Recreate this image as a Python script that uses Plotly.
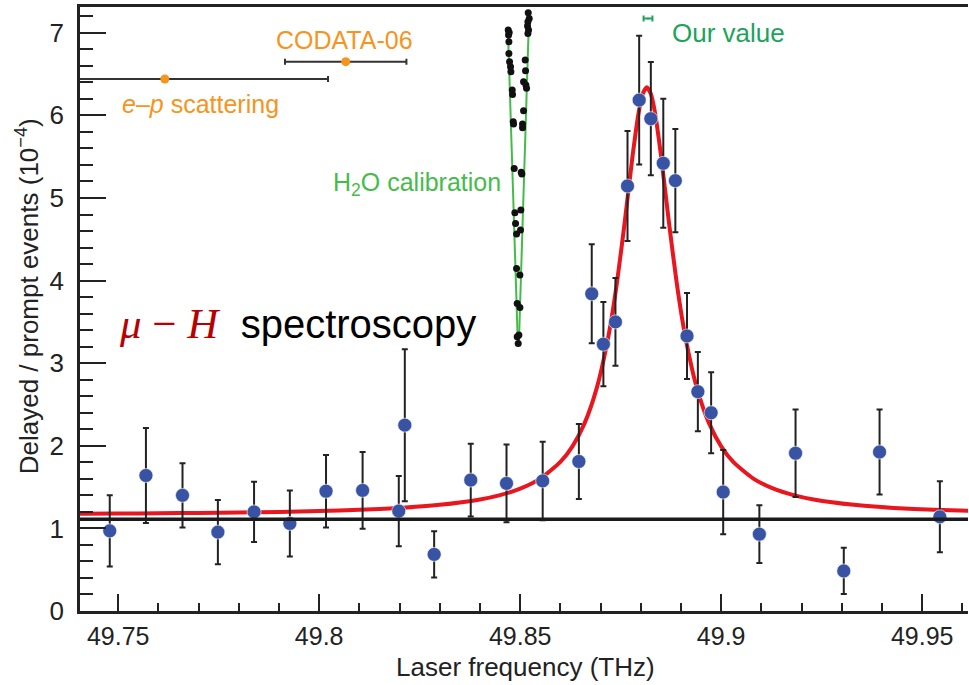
import plotly.graph_objects as go

# ---------------- data ----------------
freq = [49.7479, 49.7569, 49.7660, 49.7748, 49.7838, 49.7927, 49.8017, 49.8108,
        49.8198, 49.8213, 49.8286, 49.8377, 49.8466, 49.8556, 49.8646, 49.8678,
        49.8707, 49.8737, 49.8767, 49.8796, 49.8825, 49.8856, 49.8886, 49.8915,
        49.8942, 49.8975, 49.9005, 49.9095, 49.9185, 49.9305, 49.9394, 49.9544]
ratio = [0.97, 1.64, 1.40, 0.955, 1.20, 1.06, 1.45, 1.46,
         1.21, 2.25, 0.685, 1.585, 1.545, 1.575, 1.81, 3.84,
         3.23, 3.50, 5.145, 6.185, 5.96, 5.42, 5.21, 3.33,
         2.655, 2.40, 1.44, 0.93, 1.91, 0.485, 1.925, 1.14]
ratio_err = [0.43, 0.575, 0.39, 0.39, 0.365, 0.40, 0.44, 0.465,
             0.425, 0.92, 0.28, 0.44, 0.47, 0.475, 0.455, 0.60,
             0.51, 0.53, 0.665, 0.78, 0.685, 0.78, 0.625, 0.52,
             0.48, 0.49, 0.51, 0.35, 0.53, 0.28, 0.515, 0.43]

# fitted resonance curve
fit_x = [49.7405, 49.75, 49.76, 49.77, 49.78, 49.79, 49.80, 49.81, 49.82, 49.83,
         49.84, 49.845, 49.85, 49.855, 49.86, 49.863, 49.866, 49.869, 49.872,
         49.874, 49.876, 49.878, 49.8795, 49.8805, 49.8815, 49.8825, 49.8835,
         49.885, 49.887, 49.889, 49.891, 49.894, 49.897, 49.900, 49.903, 49.908,
         49.913, 49.918, 49.923, 49.933, 49.943, 49.953, 49.9615]
fit_y = [1.177, 1.180, 1.183, 1.187, 1.193, 1.200, 1.211, 1.226, 1.248, 1.285,
         1.350, 1.403, 1.481, 1.603, 1.804, 1.993, 2.271, 2.692, 3.341,
         3.949, 4.705, 5.525, 6.042, 6.262, 6.340, 6.262, 6.042,
         5.525, 4.705, 3.949, 3.341, 2.692, 2.271, 1.993, 1.804, 1.603,
         1.481, 1.403, 1.350, 1.285, 1.248, 1.226, 1.213]

background_level = 1.11

# H2O calibration: two branches of dots and their lines
h2o_left_x = [49.84702, 49.84727, 49.84711, 49.84719, 49.84719, 49.84736, 49.84760,
              49.84769, 49.84802, 49.84810, 49.84827, 49.84835, 49.84851, 49.84868,
              49.84885, 49.84910, 49.84910, 49.84926, 49.84926, 49.84951]
h2o_left_y = [7.033, 7.004, 6.972, 6.892, 6.750, 6.649, 6.589,
              6.528, 6.306, 6.254, 5.923, 5.895, 5.358, 4.821,
              4.692, 4.563, 4.147, 3.724, 3.320, 3.239]
h2o_right_x = [49.85200, 49.85225, 49.85192, 49.85183, 49.85208, 49.85192, 49.85125,
               49.85133, 49.85084, 49.85142, 49.85158, 49.85084, 49.85059, 49.85059,
               49.85026, 49.85042, 49.85017, 49.85009, 49.84993, 49.84993, 49.84968]
h2o_right_y = [7.243, 7.174, 7.134, 7.081, 7.033, 6.992, 6.670,
               6.540, 6.407, 6.367, 6.327, 6.056, 5.895, 5.850,
               5.310, 5.289, 4.853, 4.611, 4.067, 3.675, 3.340]
h2o_left_line_x = [49.84694, 49.84943]
h2o_left_line_y = [7.053, 3.219]
h2o_right_line_x = [49.85225, 49.84968]
h2o_right_line_y = [7.275, 3.239]

# radius-derived predictions
ep_x, ep_y, ep_err = [49.7616], [6.44], [0.0406]
codata_x, codata_y, codata_err = [49.8066], [6.65], [0.0151]
our_x, our_y, our_err = [49.8818], [7.174], [0.0011]

x_tickvals = [49.75, 49.80, 49.85, 49.90, 49.95]
x_ticktext = ["49.75", "49.8", "49.85", "49.9", "49.95"]
y_tickvals = [0, 1, 2, 3, 4, 5, 6, 7]

# ---------------- styles ----------------
BLUE = "#3953A4"
RED = "#E8161E"
ORANGE = "#F7941D"
GREEN = "#45BC4A"
GREEN2 = "#1DA35B"
DARK = "#222222"
SANS = "Liberation Sans, Arial, sans-serif"

fig = go.Figure()

# H2O calibration lines + dots
fig.add_trace(go.Scatter(x=h2o_left_line_x, y=h2o_left_line_y, mode="lines",
                         line=dict(color=GREEN, width=2), showlegend=False))
fig.add_trace(go.Scatter(x=h2o_right_line_x, y=h2o_right_line_y, mode="lines",
                         line=dict(color=GREEN, width=2), showlegend=False))
fig.add_trace(go.Scatter(x=h2o_left_x + h2o_right_x, y=h2o_left_y + h2o_right_y,
                         mode="markers", marker=dict(color="#111111", size=7),
                         showlegend=False))

# fitted curve
fig.add_trace(go.Scatter(x=fit_x, y=fit_y, mode="lines",
                         line=dict(color=RED, width=4, shape="spline", smoothing=0.6),
                         showlegend=False))

# data points
fig.add_trace(go.Scatter(
    x=freq, y=ratio, mode="markers",
    marker=dict(color=BLUE, size=14, line=dict(color="white", width=0.6)),
    error_y=dict(type="data", array=ratio_err, visible=True,
                 color=DARK, thickness=2, width=3),
    showlegend=False))

# e-p scattering and CODATA
fig.add_trace(go.Scatter(
    x=ep_x + codata_x, y=ep_y + codata_y, mode="markers",
    marker=dict(color=ORANGE, size=9),
    error_x=dict(type="data", array=ep_err + codata_err, visible=True,
                 color="#333333", thickness=2, width=3),
    showlegend=False))

# our value
fig.add_trace(go.Scatter(
    x=our_x, y=our_y, mode="markers",
    marker=dict(color=GREEN2, size=2),
    error_x=dict(type="data", array=our_err, visible=True,
                 color=GREEN2, thickness=2, width=3),
    showlegend=False))

# background level
fig.add_shape(type="line", xref="paper", x0=0, x1=1, yref="y",
              y0=background_level, y1=background_level,
              line=dict(color="#1a1a1a", width=3.5))

ann_font = dict(family=SANS, size=25)
fig.add_annotation(x=49.8064, y=6.918, text="CODATA-06", showarrow=False,
                   xanchor="center", yanchor="middle",
                   font=dict(ann_font, color=ORANGE))
fig.add_annotation(x=49.7504, y=6.137, text="<i>e</i>–<i>p</i> scattering",
                   showarrow=False, xanchor="left", yanchor="middle",
                   font=dict(ann_font, color=ORANGE))
fig.add_annotation(x=49.8873, y=7.003, text="Our value", showarrow=False,
                   xanchor="left", yanchor="middle",
                   font=dict(ann_font, size=26, color=GREEN2))
fig.add_annotation(x=49.8457, y=5.168, text="H<sub>2</sub>O calibration",
                   showarrow=False, xanchor="right", yanchor="middle",
                   font=dict(ann_font, color=GREEN))
fig.add_annotation(
    x=49.7497, y=3.485,
    text='<span style="font-family:Liberation Serif;color:#B80000;font-size:43px"><i>μ</i> − <i>H</i></span>  spectroscopy',
    showarrow=False, xanchor="left", yanchor="middle",
    font=dict(family=SANS, size=40, color="black"))

# axis titles as annotations
fig.add_annotation(xref="paper", yref="paper", x=0.502, y=-0.0935,
                   text="Laser frequency (THz)", showarrow=False,
                   xanchor="center", yanchor="middle",
                   font=dict(family=SANS, size=26, color=DARK))
fig.add_annotation(xref="paper", yref="paper", x=-0.0597, y=0.521,
                   text="Delayed / prompt events (10<sup>−4</sup>)", showarrow=False,
                   textangle=-90, xanchor="center", yanchor="middle",
                   font=dict(family=SANS, size=26, color=DARK))

fig.update_layout(
    width=969, height=685,
    margin=dict(l=80, r=1, t=7, b=74, autoexpand=False),
    paper_bgcolor="white", plot_bgcolor="white",
    showlegend=False,
)
fig.update_xaxes(
    automargin=False,
    range=[49.7405, 49.9614], showgrid=False, zeroline=False,
    showline=True, linecolor=DARK, linewidth=2.5, mirror=True,
    tickmode="array", tickvals=x_tickvals, ticktext=x_ticktext,
    ticks="inside", ticklen=17, tickwidth=2, tickcolor=DARK,
    ticklabelstandoff=1,
    tickfont=dict(family=SANS, size=25, color=DARK),
    minor=dict(tick0=49.75, dtick=0.01, ticks="inside", ticklen=8,
               tickwidth=2, tickcolor=DARK),
)
fig.update_yaxes(
    automargin=False,
    range=[0, 7.312], showgrid=False, zeroline=False,
    showline=True, linecolor=DARK, linewidth=2.5,
    tickmode="array", tickvals=y_tickvals,
    ticks="inside", ticklen=26, tickwidth=2, tickcolor=DARK,
    ticklabelstandoff=8,
    tickfont=dict(family=SANS, size=26, color=DARK),
    minor=dict(tick0=0, dtick=0.2, ticks="inside", ticklen=13,
               tickwidth=2, tickcolor=DARK),
)

fig.write_html(
    "out.html",
    config={"displayModeBar": False},
    post_script="document.body.style.margin='0';document.body.style.overflow='hidden';",
)
